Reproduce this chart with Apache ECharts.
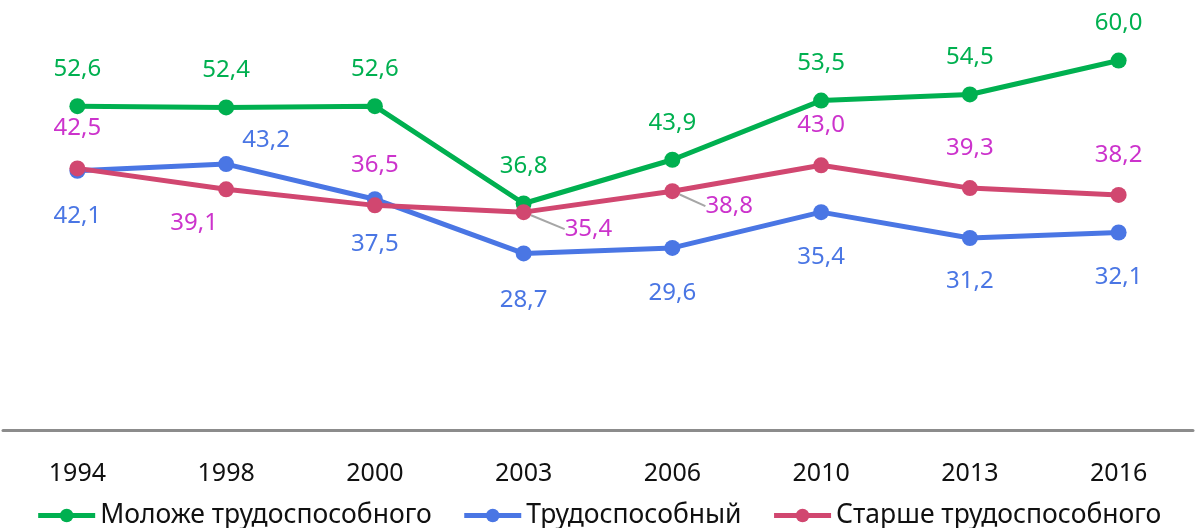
<!DOCTYPE html>
<html>
<head>
<meta charset="utf-8">
<script src="https://cdn.jsdelivr.net/npm/echarts@6/dist/echarts.min.js"></script>
<style>
  html, body { margin: 0; padding: 0; background: #fff; }
  #main { width: 1197px; height: 528px; }
</style>
</head>
<body>
<div id="main"></div>
<script>
var years = ['1994', '1998', '2000', '2003', '2006', '2010', '2013', '2016'];
var younger = [52.6, 52.4, 52.6, 36.8, 43.9, 53.5, 54.5, 60.0];
var working = [42.1, 43.2, 37.5, 28.7, 29.6, 35.4, 31.2, 32.1];
var older = [42.5, 39.1, 36.5, 35.4, 38.8, 43.0, 39.3, 38.2];

// где стоит подпись у каждой точки: [позиция, dx, dy]
var workingPos = [['bottom', 0, 5], ['top', 40, 16], ['bottom', 0, 5], ['bottom', 0, 7], ['bottom', 0, 5], ['bottom', 0, 5], ['bottom', 0, 3], ['bottom', 0, 5]];
var olderPos = [['top', 0, 3], ['bottom', 0, 0], ['top', 0, 3], ['right', 0, 0], ['right', 0, 0], ['top', 0, 3], ['top', 0, 3], ['top', 0, 3]];
// сдвиги подписей розовой линии (выноски и 1998)
var shift = { 1: [-32, -6, false], 3: [13, 17, true], 4: [5, 15, true] };

var font = 'Noto Sans';
var fmt = function (p) { return p.value.toFixed(1).replace('.', ','); };

var myChart = echarts.init(document.getElementById('main'));

function build(values, pos, withLines) {
  return values.map(function (v, i) {
    var item = { value: v, label: { position: pos[i][0], offset: [pos[i][1], pos[i][2]] } };
    if (withLines && shift[i] && shift[i][2]) {
      item.labelLine = { show: true };
    }
    return item;
  });
}

var option = {
  animation: false,
  grid: { left: 3, right: 4, top: 2, bottom: 94 },
  legend: {
    top: 497,
    left: 'center',
    itemWidth: 57,
    itemHeight: 17,
    itemGap: 30,
    lineStyle: { width: 5 },
    textStyle: { fontFamily: font, fontSize: 26.5, color: '#111' },
    data: ['Моложе трудоспособного', 'Трудоспособный', 'Старше трудоспособного']
  },
  xAxis: {
    type: 'category',
    data: years,
    axisLine: { lineStyle: { color: '#8c8c8c', width: 3 } },
    axisTick: { show: false },
    axisLabel: { fontFamily: font, fontSize: 25, color: '#111', margin: 27 }
  },
  yAxis: { type: 'value', min: -0.6, max: 69.5, show: false },
  series: [
    {
      name: 'Моложе трудоспособного',
      type: 'line',
      data: younger,
      symbol: 'circle',
      symbolSize: 16,
      lineStyle: { width: 5, color: '#00b050' },
      itemStyle: { color: '#00b050' },
      label: { show: true, position: 'top', distance: 17, formatter: fmt, fontFamily: font, fontSize: 24, color: '#00b050' }
    },
    {
      name: 'Трудоспособный',
      type: 'line',
      data: build(working, workingPos),
      symbol: 'circle',
      symbolSize: 16,
      lineStyle: { width: 5, color: '#4a76e4' },
      itemStyle: { color: '#4a76e4' },
      label: { show: true, distance: 20, formatter: fmt, fontFamily: font, fontSize: 24, color: '#4a76e4' }
    },
    {
      name: 'Старше трудоспособного',
      type: 'line',
      data: build(older, olderPos, true),
      symbol: 'circle',
      symbolSize: 16,
      lineStyle: { width: 5, color: '#d14770' },
      itemStyle: { color: '#d14770' },
      label: { show: true, distance: 20, formatter: fmt, fontFamily: font, fontSize: 24, color: '#cc33cc' },
      labelLine: { show: false, lineStyle: { color: '#a6a6a6', width: 2 } },
      labelLayout: function (p) {
        var d = shift[p.dataIndex];
        if (!d) return {};
        return { dx: d[0], dy: d[1] };
      }
    }
  ]
};
myChart.setOption(option);
</script>
</body>
</html>
